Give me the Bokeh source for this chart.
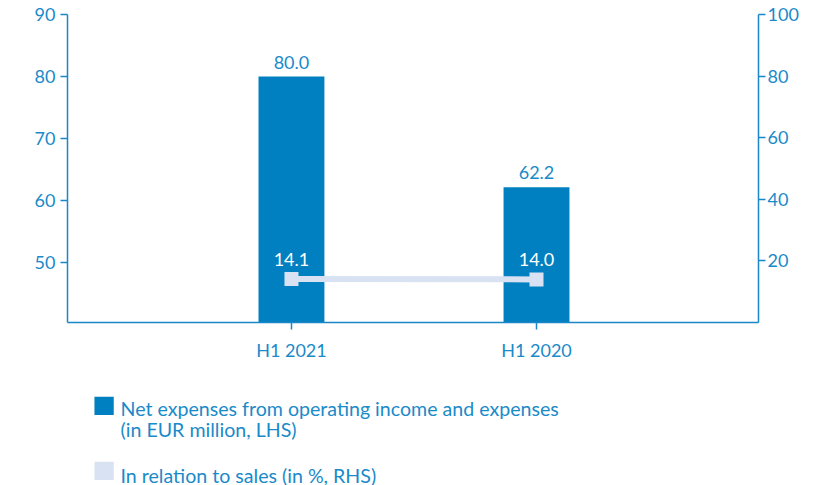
from bokeh.plotting import figure
from bokeh.models import (ColumnDataSource, Range1d, LinearAxis, FixedTicker, LabelSet)
from bokeh.layouts import column
from bokeh.core.properties import value
from bokeh.embed import file_html
from bokeh.resources import INLINE

categories = ["H1 2021", "H1 2020"]
net_expenses = [80.0, 62.2]
pct_of_sales = [14.1, 14.0]
lhs_ticks = [50, 60, 70, 80, 90]
rhs_ticks = [20, 40, 60, 80, 100]
series_names = ["Net expenses from operating income and expenses",
                "(in EUR million, LHS)",
                "In relation to sales (in %, RHS)"]

FONT = "Lato"
BAR = "#0080c0"
LIGHT = "#d9e2f3"
TXT = "#1a8ac9"
AX = "#1a88c8"

xs = list(range(len(categories)))
src = ColumnDataSource(dict(
    x=xs, cat=categories, v=net_expenses, p=pct_of_sales,
    vl=[f"{v:.1f}" for v in net_expenses],
    pl=[f"{v:.1f}" for v in pct_of_sales],
))

p = figure(width=825, height=370, output_backend="svg", toolbar_location=None,
           x_range=Range1d(-0.914, 1.906), y_range=Range1d(40.4, 90),
           min_border_left=67, min_border_right=67, min_border_top=14,
           min_border_bottom=48, title=None)
p.extra_y_ranges = {"rhs": Range1d(0, 100)}
p.outline_line_color = None
p.grid.visible = False
p.background_fill_color = None
p.border_fill_color = "white"

p.vbar(x="x", top="v", bottom=0, width=0.269, source=src,
       fill_color=BAR, line_color=None)
p.line(x="x", y="p", source=src, y_range_name="rhs", line_color=LIGHT, line_width=6)
p.scatter(x="x", y="p", source=src, y_range_name="rhs", marker="square", size=14,
          fill_color=LIGHT, line_color=None)

p.add_layout(LabelSet(x="x", y="v", text="vl", source=src, text_align="center",
                      text_baseline="alphabetic", y_offset=8, text_color=TXT,
                      text_font=value(FONT), text_font_size="18px"))
p.add_layout(LabelSet(x="x", y="p", text="pl", source=src, y_range_name="rhs",
                      text_align="center", text_baseline="alphabetic", y_offset=13,
                      text_color="white", text_font=value(FONT), text_font_size="18px"))

def style(ax):
    ax.axis_line_color = AX
    ax.axis_line_width = 1.5
    ax.major_tick_line_color = AX
    ax.major_tick_line_width = 1.5
    ax.major_tick_in = 0
    ax.major_tick_out = 7
    ax.minor_tick_line_color = None
    ax.major_label_text_color = TXT
    ax.major_label_text_font = FONT
    ax.major_label_text_font_size = "18px"

p.yaxis.ticker = FixedTicker(ticks=lhs_ticks)
style(p.yaxis[0])
p.yaxis.major_label_standoff = 5

rax = LinearAxis(y_range_name="rhs", ticker=FixedTicker(ticks=rhs_ticks))
style(rax)
rax.major_label_standoff = 2
p.add_layout(rax, "right")

p.xaxis.ticker = FixedTicker(ticks=xs)
p.xaxis.major_label_overrides = {i: c for i, c in zip(xs, categories)}
style(p.xaxis[0])
p.xaxis.major_label_standoff = 9

# legend panel: its frame is aligned with the chart frame (page x 67..758)
lg = figure(width=825, height=115, output_backend="svg", toolbar_location=None,
            x_range=Range1d(67, 758), y_range=Range1d(485, 370),
            min_border=0, title=None)
lg.axis.visible = False
lg.grid.visible = False
lg.outline_line_color = None
lg.rect(x=[103.6, 103.6], y=[405.3, 470.3], width=19.3, height=18.3,
        fill_color=[BAR, LIGHT], line_color=None)
lg.text(x=[120, 120, 120], y=[407.5, 428.5, 474.5], text=series_names,
        text_font=value(FONT), text_font_size="19.6px", text_color=TXT,
        text_baseline="alphabetic", text_align="left")

open("out.html", "w").write(file_html(column(p, lg, spacing=0), INLINE))
